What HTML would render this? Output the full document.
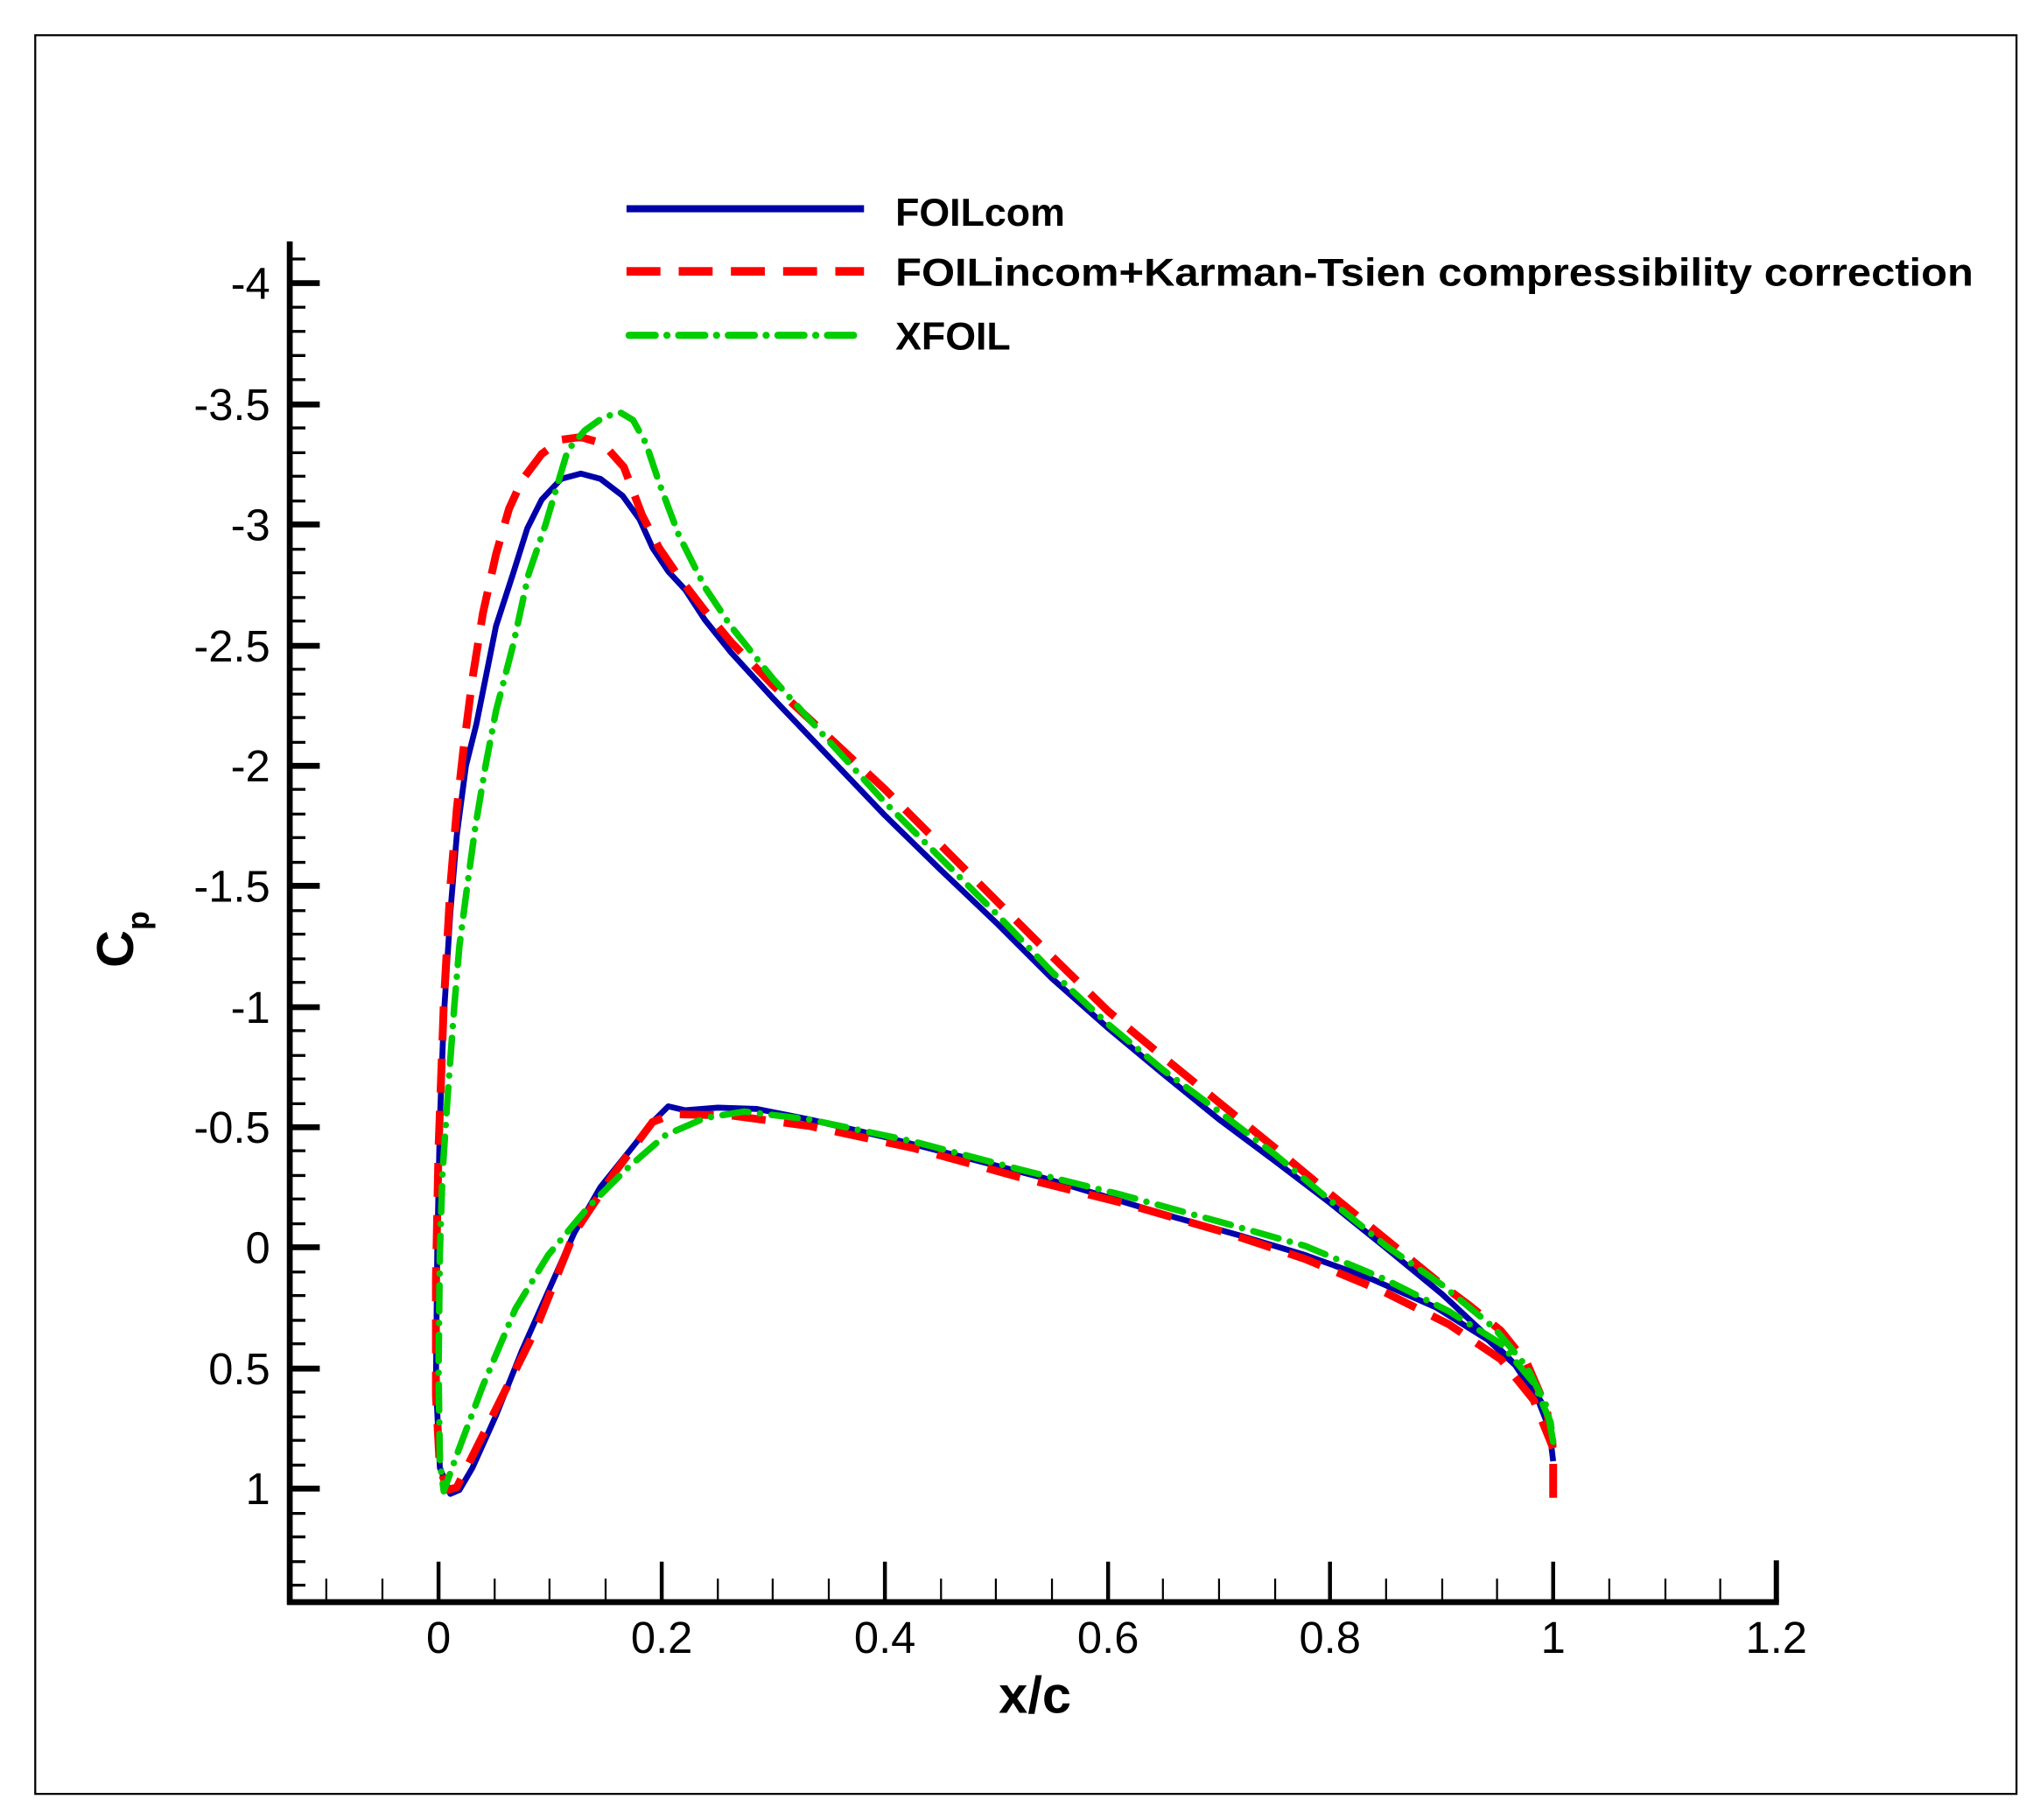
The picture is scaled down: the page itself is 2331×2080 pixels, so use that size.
<!DOCTYPE html>
<html><head><meta charset="utf-8"><style>html,body{margin:0;padding:0;background:#fff}svg{display:block}</style></head>
<body>
<svg width="2331" height="2080" viewBox="0 0 1563 1395" preserveAspectRatio="none" xmlns="http://www.w3.org/2000/svg" font-family="Liberation Sans, Arial, sans-serif">
<rect x="0" y="0" width="1563" height="1395" fill="#fff"/>
<rect x="27" y="27" width="1518" height="1348" fill="none" stroke="#000" stroke-width="1.5"/>
<g stroke="#000" stroke-linecap="butt">
<line x1="222" y1="185" x2="222" y2="1230" stroke-width="4.5"/>
<line x1="220" y1="1228" x2="1363" y2="1228" stroke-width="4.5"/>
<line x1="1361" y1="1196" x2="1361" y2="1228" stroke-width="4"/>
<g stroke-width="4.5">
<line x1="222" y1="217" x2="245" y2="217"/><line x1="222" y1="310" x2="245" y2="310"/><line x1="222" y1="402" x2="245" y2="402"/><line x1="222" y1="495" x2="245" y2="495"/><line x1="222" y1="587" x2="245" y2="587"/><line x1="222" y1="679" x2="245" y2="679"/><line x1="222" y1="772" x2="245" y2="772"/><line x1="222" y1="864" x2="245" y2="864"/><line x1="222" y1="956" x2="245" y2="956"/><line x1="222" y1="1049" x2="245" y2="1049"/><line x1="222" y1="1141" x2="245" y2="1141"/>
</g>
<g stroke-width="2.2">
<line x1="222" y1="198.5" x2="234" y2="198.5"/>
<line x1="222" y1="235.5" x2="234" y2="235.5"/><line x1="222" y1="254" x2="234" y2="254"/><line x1="222" y1="272.5" x2="234" y2="272.5"/><line x1="222" y1="291" x2="234" y2="291"/>
<line x1="222" y1="328" x2="234" y2="328"/><line x1="222" y1="347" x2="234" y2="347"/><line x1="222" y1="365" x2="234" y2="365"/><line x1="222" y1="384" x2="234" y2="384"/>
<line x1="222" y1="421" x2="234" y2="421"/><line x1="222" y1="439" x2="234" y2="439"/><line x1="222" y1="458" x2="234" y2="458"/><line x1="222" y1="476" x2="234" y2="476"/>
<line x1="222" y1="513" x2="234" y2="513"/><line x1="222" y1="532" x2="234" y2="532"/><line x1="222" y1="550" x2="234" y2="550"/><line x1="222" y1="569" x2="234" y2="569"/>
<line x1="222" y1="605" x2="234" y2="605"/><line x1="222" y1="624" x2="234" y2="624"/><line x1="222" y1="642" x2="234" y2="642"/><line x1="222" y1="661" x2="234" y2="661"/>
<line x1="222" y1="698" x2="234" y2="698"/><line x1="222" y1="716" x2="234" y2="716"/><line x1="222" y1="735" x2="234" y2="735"/><line x1="222" y1="753" x2="234" y2="753"/>
<line x1="222" y1="790" x2="234" y2="790"/><line x1="222" y1="809" x2="234" y2="809"/><line x1="222" y1="827" x2="234" y2="827"/><line x1="222" y1="846" x2="234" y2="846"/>
<line x1="222" y1="882" x2="234" y2="882"/><line x1="222" y1="901" x2="234" y2="901"/><line x1="222" y1="919" x2="234" y2="919"/><line x1="222" y1="938" x2="234" y2="938"/>
<line x1="222" y1="975" x2="234" y2="975"/><line x1="222" y1="993" x2="234" y2="993"/><line x1="222" y1="1012" x2="234" y2="1012"/><line x1="222" y1="1030" x2="234" y2="1030"/>
<line x1="222" y1="1067" x2="234" y2="1067"/><line x1="222" y1="1086" x2="234" y2="1086"/><line x1="222" y1="1104" x2="234" y2="1104"/><line x1="222" y1="1123" x2="234" y2="1123"/>
<line x1="222" y1="1160" x2="234" y2="1160"/><line x1="222" y1="1178" x2="234" y2="1178"/><line x1="222" y1="1197" x2="234" y2="1197"/><line x1="222" y1="1215" x2="234" y2="1215"/>
</g>
<g stroke-width="3">
<line x1="336" y1="1228" x2="336" y2="1197"/><line x1="507" y1="1228" x2="507" y2="1197"/><line x1="678" y1="1228" x2="678" y2="1197"/><line x1="849" y1="1228" x2="849" y2="1197"/><line x1="1019" y1="1228" x2="1019" y2="1197"/><line x1="1190" y1="1228" x2="1190" y2="1197"/>
</g>
<g stroke-width="1.5">
<line x1="250" y1="1228" x2="250" y2="1210"/><line x1="293" y1="1228" x2="293" y2="1210"/><line x1="379" y1="1228" x2="379" y2="1210"/><line x1="421" y1="1228" x2="421" y2="1210"/><line x1="464" y1="1228" x2="464" y2="1210"/><line x1="550" y1="1228" x2="550" y2="1210"/><line x1="592" y1="1228" x2="592" y2="1210"/><line x1="635" y1="1228" x2="635" y2="1210"/><line x1="721" y1="1228" x2="721" y2="1210"/><line x1="763" y1="1228" x2="763" y2="1210"/><line x1="806" y1="1228" x2="806" y2="1210"/><line x1="891" y1="1228" x2="891" y2="1210"/><line x1="934" y1="1228" x2="934" y2="1210"/><line x1="977" y1="1228" x2="977" y2="1210"/><line x1="1062" y1="1228" x2="1062" y2="1210"/><line x1="1105" y1="1228" x2="1105" y2="1210"/><line x1="1147" y1="1228" x2="1147" y2="1210"/><line x1="1233" y1="1228" x2="1233" y2="1210"/><line x1="1276" y1="1228" x2="1276" y2="1210"/><line x1="1318" y1="1228" x2="1318" y2="1210"/>
</g>
</g>
<g font-size="34" text-anchor="end" fill="#000">
<text x="207" y="229">-4</text><text x="207" y="322">-3.5</text><text x="207" y="414">-3</text><text x="207" y="507">-2.5</text><text x="207" y="599">-2</text><text x="207" y="691">-1.5</text><text x="207" y="784">-1</text><text x="207" y="876">-0.5</text><text x="207" y="968">0</text><text x="207" y="1061">0.5</text><text x="207" y="1153">1</text>
</g>
<g font-size="34" text-anchor="middle" fill="#000">
<text x="336" y="1267">0</text><text x="507" y="1267">0.2</text><text x="678" y="1267">0.4</text><text x="849" y="1267">0.6</text><text x="1019" y="1267">0.8</text><text x="1190" y="1267">1</text><text x="1361" y="1267">1.2</text>
</g>
<text x="793" y="1313" font-size="40" font-weight="bold" text-anchor="middle">x/c</text>
<g transform="translate(102,720) rotate(-90)"><text x="0" y="0" font-size="40" font-weight="bold" text-anchor="middle">C<tspan font-size="24" dy="12">p</tspan></text></g>
<line x1="480" y1="160" x2="662" y2="160" stroke="#0000aa" stroke-width="5.5"/>
<line x1="480" y1="208" x2="662" y2="208" stroke="#ff0000" stroke-width="6.5" stroke-dasharray="26 14"/>
<line x1="482" y1="257" x2="662" y2="257" stroke="#00cc00" stroke-width="5.5" stroke-linecap="round" stroke-dasharray="20 9 0 9"/>
<g font-size="30" font-weight="bold" fill="#000">
<text x="686" y="173">FOILcom</text>
<text x="686" y="219" textLength="826" lengthAdjust="spacingAndGlyphs">FOILincom+Karman-Tsien compressibility correction</text>
<text x="686" y="268">XFOIL</text>
</g>
<g fill="none" stroke-linejoin="round">
<path stroke="#0000aa" stroke-width="4.5" d="M1190,1120 L1187,1095 L1178,1072 L1160,1045 L1135,1020 L1105,992 L1060,955 L1019,922 L977,890 L934,858 L891,823 L849,788 L806,750 L763,707 L721,667 L678,625 L635,580 L592,535 L560,500 L540,475 L525,452 L512,438 L500,420 L490,398 L477,380 L460,367 L445,363 L430,367 L415,383 L404,405 L393,440 L380,480 L372,520 L365,555 L357,587 L350,640 L345,700 L340,780 L337,860 L335,960 L334,1060 L337,1125 L345,1145 L352,1142 L362,1125 L380,1085 L400,1035 L420,990 L440,945 L460,910 L480,885 L500,860 L512,848 L525,851 L550,849 L580,850 L620,858 L680,872 L750,890 L800,903 L850,918 L900,933 L950,947 L1000,962 L1050,980 L1100,1002 L1140,1027 L1168,1053 L1183,1078 L1190,1110"/>
<path stroke="#ff0000" stroke-width="6" stroke-dasharray="26 14" d="M1190,1148 L1190,1110 L1185,1080 L1170,1045 L1150,1020 L1125,1000 L1105,985 L1062,950 L1019,915 L977,880 L934,845 L891,810 L849,775 L806,733 L763,690 L721,648 L678,605 L635,565 L592,525 L560,492 L540,468 L520,442 L505,420 L492,395 L478,358 L462,340 L445,335 L430,337 L415,348 L400,368 L390,390 L380,425 L370,470 L362,520 L355,575 L350,620 L345,680 L340,770 L336,880 L334,980 L334,1070 L337,1125 L343,1142 L350,1140 L360,1120 L385,1070 L410,1020 L440,945 L470,900 L500,860 L515,854 L560,855 L620,863 L700,880 L780,902 L860,922 L940,945 L1000,965 L1060,990 L1110,1015 L1150,1042 L1175,1073 L1190,1110"/>
<path stroke="#00cc00" stroke-width="5" stroke-linecap="round" stroke-dasharray="20 9 0 9" d="M1190,1105 L1185,1078 L1170,1048 L1145,1018 L1105,985 L1062,955 L1019,920 L977,885 L934,852 L891,820 L849,785 L806,745 L763,700 L721,658 L678,615 L635,568 L592,520 L560,480 L540,450 L520,410 L505,370 L495,340 L485,322 L475,316 L462,320 L448,330 L435,345 L418,402 L405,440 L393,495 L380,545 L372,587 L364,635 L358,679 L352,725 L348,772 L343,840 L339,900 L337,960 L336,1050 L337,1120 L340,1143 L350,1115 L370,1062 L395,1003 L420,962 L450,926 L480,896 L510,870 L540,857 L570,852 L620,858 L700,875 L780,896 L860,916 L940,938 L1000,955 L1060,980 L1110,1005 L1150,1030 L1175,1060 L1188,1090 L1190,1105"/>
</g>
</svg>
</body></html>
